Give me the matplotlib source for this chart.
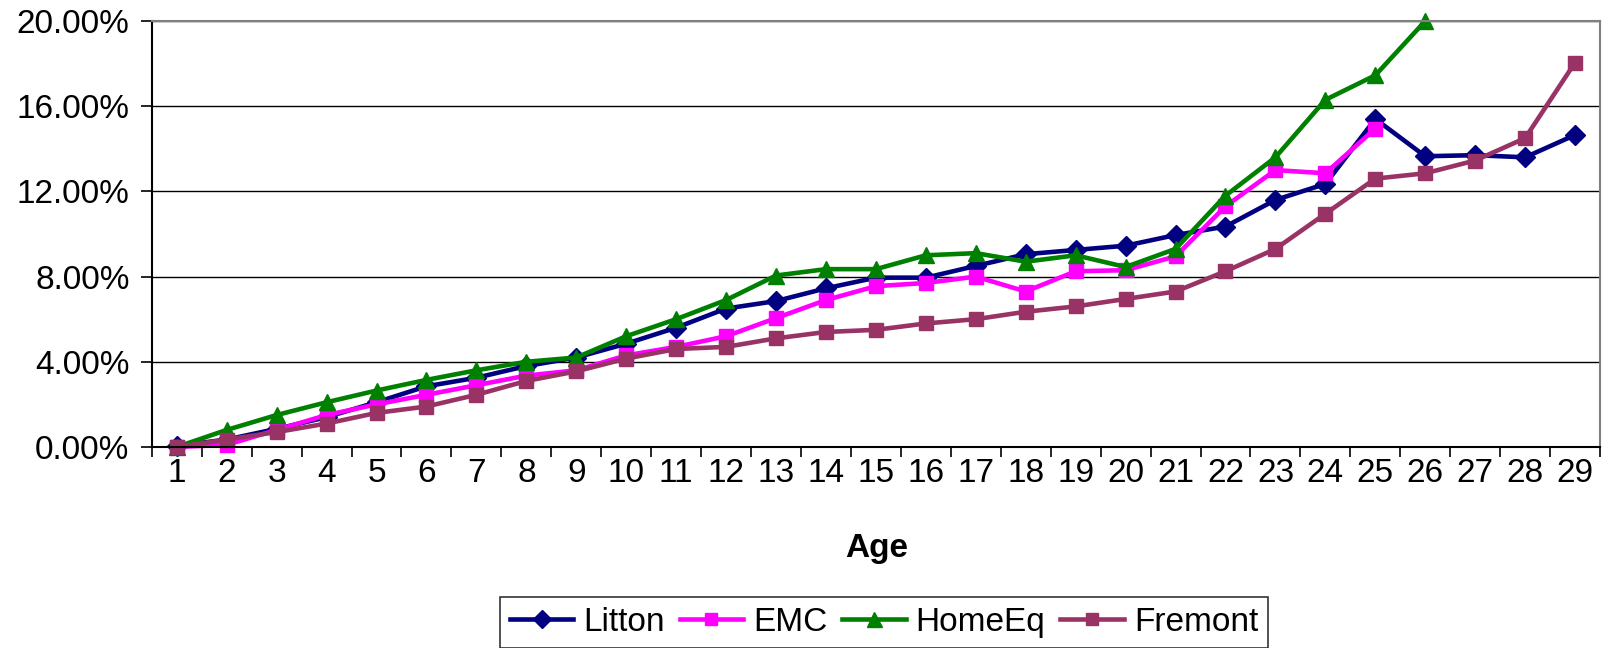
import matplotlib
matplotlib.use("Agg")
import matplotlib.pyplot as plt
import numpy as np
from matplotlib.lines import Line2D

plt.rcParams['font.family'] = ['Liberation Sans', 'DejaVu Sans']

ages = list(range(1, 30))
litton = [0.05, 0.35, 0.85, 1.4, 2.1, 2.85, 3.25, 3.8, 4.2, 4.85, 5.6, 6.5, 6.85, 7.45, 7.95,
          7.95, 8.5, 9.05, 9.25, 9.45, 9.95, 10.35, 11.6, 12.35, 15.4, 13.65, 13.7, 13.6, 14.65]
emc = [0.0, 0.1, 0.8, 1.5, 2.0, 2.45, 2.9, 3.35, 3.6, 4.3, 4.7, 5.2, 6.05, 6.9, 7.55,
       7.7, 8.0, 7.3, 8.25, 8.3, 8.95, 11.3, 13.0, 12.85, 14.95]
homeeq = [0.0, 0.8, 1.5, 2.1, 2.65, 3.15, 3.6, 4.0, 4.2, 5.2, 6.0, 6.9, 8.05, 8.35, 8.35,
          9.0, 9.1, 8.7, 9.0, 8.45, 9.3, 11.8, 13.6, 16.3, 17.45, 20.0]
fremont = [0.0, 0.35, 0.7, 1.1, 1.6, 1.9, 2.45, 3.1, 3.55, 4.15, 4.6, 4.7, 5.1, 5.4, 5.5,
           5.8, 6.0, 6.35, 6.6, 6.95, 7.3, 8.25, 9.3, 10.95, 12.6, 12.85, 13.45, 14.5, 18.05]
y_ticks = [0, 4, 8, 12, 16, 20]
y_labels = ["0.00%", "4.00%", "8.00%", "12.00%", "16.00%", "20.00%"]

series = [
    ("Litton", litton, "#000080", "D", 10),
    ("EMC", emc, "#FF00FF", "s", 10),
    ("HomeEq", homeeq, "#008000", "^", 12),
    ("Fremont", fremont, "#993366", "s", 10),
]

fig = plt.figure(figsize=(16.06, 6.48), dpi=100)
ax = fig.add_axes([0.0945, 0.3102, 0.9963 - 0.0945, 0.9676 - 0.3102])

for name, vals, col, mk, ms in series:
    ax.plot(ages[:len(vals)], vals, color=col, lw=3.3, marker=mk, markersize=ms,
            markerfacecolor=col, markeredgecolor=col, label=name, clip_on=False)

ax.set_xlim(0.5, 29.5)
ax.set_ylim(0, 20)
ax.set_yticks(y_ticks)
ax.set_yticklabels(y_labels, fontsize=24)
ax.set_xticks(ages)
ax.set_xticklabels([str(a) for a in ages], fontsize=24)
ax.set_xticks(np.arange(0.5, 30, 1), minor=True)
ax.tick_params(axis='x', which='major', length=0, pad=8)
ax.tick_params(axis='x', which='minor', length=7, width=1.2, direction='out')
ax.tick_params(axis='y', which='major', length=8, width=1.2, direction='out', pad=8)

ax.grid(axis='y', color='#000000', lw=1)
ax.set_axisbelow(True)
for s in ['left', 'bottom']:
    ax.spines[s].set_color('black')
    ax.spines[s].set_linewidth(1.5)
for s in ['top', 'right']:
    ax.spines[s].set_color('#808080')
    ax.spines[s].set_linewidth(1.5)

fig.text(877 / 1606, 1 - 548 / 648, "Age", fontsize=24, fontweight='bold',
         ha='center', va='center')

handles = [Line2D([], [], color=c, lw=3.3, marker=m, markersize=ms * 0.9)
           for _, _, c, m, ms in series]
leg = fig.legend(handles, [s[0] for s in series], loc='upper center',
                 bbox_to_anchor=(884 / 1606, 1 - 580 / 648), ncol=4, fontsize=24,
                 frameon=True, fancybox=False, edgecolor='black', handlelength=1.9,
                 handletextpad=0.3, columnspacing=0.45, borderpad=0.3)
leg.get_frame().set_linewidth(1.2)

fig.savefig("out.png", dpi=100)
